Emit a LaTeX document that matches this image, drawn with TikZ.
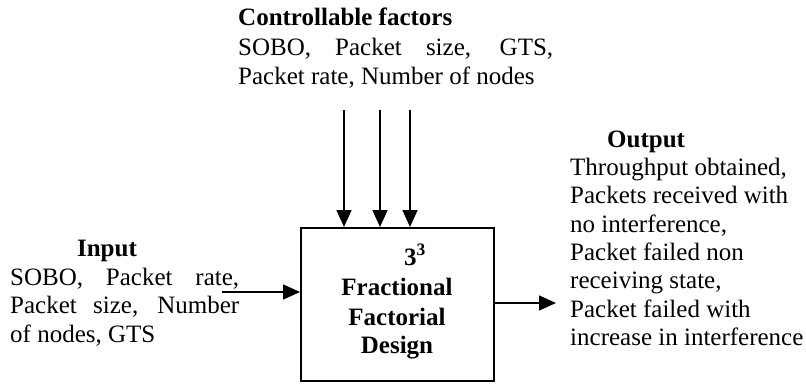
\documentclass[tikz,border=0pt]{standalone}
\usepackage{fontspec}
\setmainfont{Liberation Serif}
\usetikzlibrary{arrows.meta}
\begin{document}
\begin{tikzpicture}[x=1pt,y=-1pt,
  txt/.style={inner sep=0pt, font=\fontsize{25}{29}\selectfont},
  btxt/.style={inner sep=0pt, font=\fontsize{25}{29}\selectfont\bfseries},
  arr/.style={line width=1.6pt, -{Triangle[length=17pt,width=15pt]}},
  boxst/.style={draw, line width=1.6pt, minimum width=193pt, minimum height=153pt, inner sep=0pt}]
\useasboundingbox (0,0) rectangle (806,383);
% central box
\node[boxst, anchor=north west] (box) at (300,227) {};
\node[btxt, anchor=base] (t0) at (415,265) {3\textsuperscript{3}};
\node[btxt, anchor=base] (t1) at (397,295) {Fractional};
\node[btxt, anchor=base] (t2) at (397,325) {Factorial};
\node[btxt, anchor=base] (t3) at (397,353) {Design};
% controllable factors
\node[btxt, anchor=base west] (c0) at (238,25) {Controllable factors};
\node[txt, anchor=base west] (c1) at (238,55) {\makebox[315pt][s]{SOBO, Packet size, GTS,}};
\node[txt, anchor=base west] (c2) at (238,84) {Packet rate, Number of nodes};
\coordinate (a1) at (344,110);
\coordinate (a2) at (380,110);
\coordinate (a3) at (410,110);
\draw[arr] (a1) -- (a1 |- box.north);
\draw[arr] (a2) -- (a2 |- box.north);
\draw[arr] (a3) -- (a3 |- box.north);
% input
\node[btxt, anchor=base] (i0) at (107,256) {Input};
\node[txt, anchor=base west] (i1) at (10,285) {\makebox[229pt][s]{SOBO, Packet rate,}};
\node[txt, anchor=base west] (i2) at (10,313) {\makebox[229pt][s]{Packet size, Number}};
\node[txt, anchor=base west] (i3) at (10,342) {of nodes, GTS};
\coordinate (ain) at (222,292);
\draw[arr] (ain) -- (ain -| box.west);
% output
\coordinate (aout) at (556,303);
\draw[arr] (aout -| box.east) -- (aout);
\node[btxt, anchor=base west] (o0) at (607,147) {Output};
\node[txt, anchor=base west] (o1) at (570,175) {Throughput obtained,};
\node[txt, anchor=base west] (o2) at (570,203) {Packets received with};
\node[txt, anchor=base west] (o3) at (570,232) {no interference,};
\node[txt, anchor=base west] (o4) at (570,260) {Packet failed non};
\node[txt, anchor=base west] (o5) at (570,288) {receiving state,};
\node[txt, anchor=base west] (o6) at (570,317) {Packet failed with};
\node[txt, anchor=base west] (o7) at (570,345) {increase in interference};
\end{tikzpicture}
\end{document}
